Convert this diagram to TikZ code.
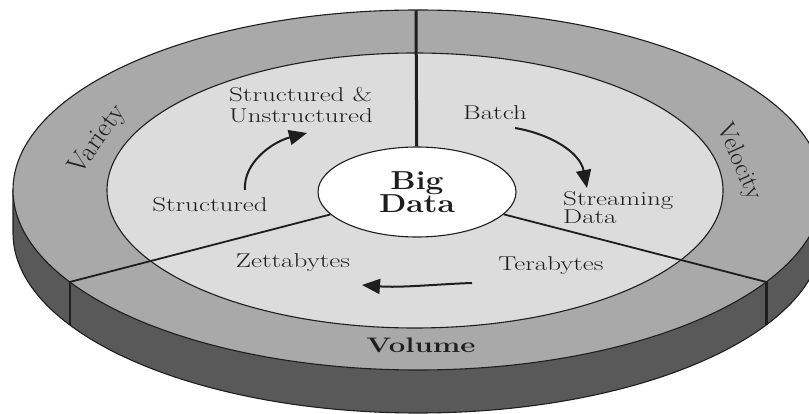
\documentclass[tikz,border=0pt]{standalone}
\usepackage{fontspec}
\usepackage{graphicx}
\usetikzlibrary{arrows.meta,shapes.geometric}
\definecolor{bandgray}{HTML}{A9A9A9}
\definecolor{diskgray}{HTML}{DCDCDC}
\definecolor{sidegray}{HTML}{595959}
\definecolor{inkc}{HTML}{1E1E1E}
\newcommand{\hstr}[2][1.35]{\scalebox{#1}[1]{#2}}
\newcommand{\heavy}{\addfontfeatures{FakeBold=0.5}}
\begin{document}
\begin{tikzpicture}[x=1pt,y=-1pt,
  edge/.style={draw=inkc, line width=1.1pt},
  divider/.style={draw=inkc, line width=1.8pt},
  sideline/.style={draw=inkc, line width=2.4pt},
  lbl/.style={inner sep=0pt, text=inkc, font=\fontsize{20}{21}\selectfont\heavy},
  axis/.style={inner sep=0pt, text=inkc, font=\fontsize{27}{28}\selectfont\heavy},
  arr/.style={draw=inkc, line width=2pt, -{Triangle[length=18pt,width=15pt]}}]
\useasboundingbox (0,0) rectangle (809,414);
\clip (0,0) rectangle (809,414);
% side of the disc
\fill[sidegray] (13,190) rectangle (823,233);
\fill[sidegray] (418,233) ellipse [x radius=405, y radius=180];
\draw[edge] (13,190) -- (13,233) arc[start angle=180, end angle=0, x radius=405, y radius=180] -- (823,190);
% top face
\fill[bandgray] (418,190) ellipse [x radius=405, y radius=180];
\draw[edge] (418,190) ellipse [x radius=405, y radius=180];
\fill[diskgray] (415,190.5) ellipse [x radius=308, y radius=137.5];
\draw[edge] (415,190.5) ellipse [x radius=308, y radius=137.5];
% points on the rim
\coordinate (oT) at (416,10.5);
\coordinate (oL) at (69.7,282);
\coordinate (oR) at (766.3,282);
\coordinate (oLb) at (69.7,325);
\coordinate (oRb) at (766.3,325);
% centre
\node[ellipse, draw=inkc, line width=1.1pt, fill=white, minimum width=198pt, minimum height=90pt, inner sep=0pt,
      text=inkc, font=\fontsize{26}{24}\selectfont\bfseries, align=center] (core) at (417,192)
      {\hstr[1.22]{Big}\\[-1pt]\hstr[1.22]{Data}};
% dividers
\draw[divider, line width=3pt] (core) -- (oT);
\draw[divider] (core) -- (oL);
\draw[divider] (core) -- (oR);
\draw[sideline] (oL) -- (oLb);
\draw[sideline] (oR) -- (oRb);
% ring labels
\node[axis, rotate=54] (variety) at (98,140) {Variety};
\node[axis, font=\fontsize{25}{26}\selectfont\heavy, rotate=-66] (velocity) at (739,162) {Velocity};
\node[axis, font=\fontsize{21}{22}\selectfont\bfseries, anchor=base] (volume) at (421,352) {\hstr[1.4]{Volume}};
% inner labels
\node[lbl, anchor=west, align=left] (su) at (229,105) {\hstr{Structured \&}\\\hstr{Unstructured}};
\node[lbl, anchor=base] (st) at (210,212) {\hstr{Structured}};
\node[lbl, anchor=base] (batch) at (495,120) {\hstr{Batch}};
\node[lbl, anchor=west, align=left, font=\fontsize{20}{18}\selectfont\heavy] (stream) at (563,208) {\hstr{Streaming}\\\hstr{Data}};
\node[lbl, anchor=base] (zetta) at (293,268) {\hstr{Zettabytes}};
\node[lbl, anchor=base] (tera) at (551,271) {\hstr{Terabytes}};
% arrows
\coordinate (a1s) at (245,190);
\coordinate (a1e) at (307,133);
\coordinate (a2s) at (515,128);
\coordinate (a2e) at (587,188);
\coordinate (a3s) at (472,283);
\coordinate (a3e) at (362,285);
\draw[arr] (a1s) .. controls (243,163) and (272,142) .. (a1e);
\draw[arr] (a2s) .. controls (550,134) and (580,152) .. (a2e);
\draw[arr] (a3s) .. controls (440,284) and (400,288) .. (a3e);
\end{tikzpicture}
\end{document}
